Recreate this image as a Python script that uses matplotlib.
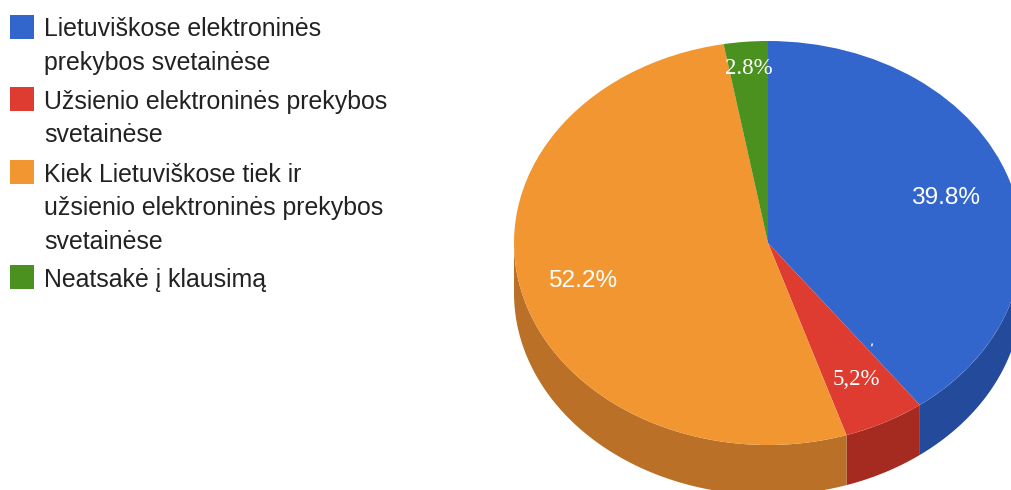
import numpy as np
import matplotlib
matplotlib.use("Agg")
import matplotlib.pyplot as plt
from matplotlib.patches import Rectangle

# Survey shares, percent
categories = [
    "Lietuviškose elektroninės\nprekybos svetainėse",
    "Užsienio elektroninės prekybos\nsvetainėse",
    "Kiek Lietuviškose tiek ir\nužsienio elektroninės prekybos\nsvetainėse",
    "Neatsakė į klausimą",
]
values = [39.8, 5.2, 52.2, 2.8]
value_labels = ["39.8%", "5,2%", "52.2%", "2.8%"]

top_colors = ["#3366CC", "#DE3C30", "#F29632", "#4B9120"]
side_colors = ["#244B9B", "#A52A20", "#BA7026", "#35661A"]

W, H = 1011, 490
fig = plt.figure(figsize=(W / 100, H / 100), dpi=100, facecolor="white")

# Pie geometry in pixels: centre, radii and wall height of the tilted disc
cx, cy, rx, ry, depth = 768, 243, 254, 202, 50

ax = fig.add_axes([(cx - rx) / W, 1 - (cy + ry) / H, 2 * rx / W, 2 * ry / H])
ax.pie(values, colors=top_colors, startangle=90, counterclock=False, radius=1,
       wedgeprops={"linewidth": 0, "zorder": 3})
ax.set_aspect("auto")
ax.set_xlim(-1, 1)
ax.set_ylim(-1, 1)
ax.axis("off")

# Front wall of the disc: only the part of each slice that faces the viewer
wall = depth / ry
edges = np.cumsum([0] + values) / sum(values) * 360
for start, end, color in zip(edges[:-1], edges[1:], side_colors):
    lo, hi = max(start, 90), min(end, 270)
    if hi <= lo:
        continue
    t = np.radians(np.linspace(lo, hi, 120))
    x, y = np.sin(t), np.cos(t)
    ax.fill(np.r_[x, x[::-1]], np.r_[y, y[::-1] - wall], color=color, lw=0,
            zorder=2, clip_on=False)

# Overlay in pixel coordinates for the legend and the value labels
ov = fig.add_axes([0, 0, 1, 1], facecolor="none")
ov.set_xlim(0, W)
ov.set_ylim(H, 0)
ov.axis("off")

sans = "Liberation Sans"
serif = "Liberation Serif"
line_px = 33.6
swatch_y = [27, 99, 172, 277]
for label, color, y in zip(categories, top_colors, swatch_y):
    ov.add_patch(Rectangle((10, y - 12), 24, 24, facecolor=color, edgecolor="none"))
    for i, line in enumerate(label.split("\n")):
        ov.text(44.5, y + i * line_px, line, family=sans, fontsize=17.95,
                color="#222222", va="center_baseline", ha="left")

label_pos = [(946, 198), (856, 379), (583, 281), (749, 69)]
label_font = [(sans, 17.6), (serif, 16.5), (sans, 17.6), (serif, 16.5)]
for text, (x, y), (family, size) in zip(value_labels, label_pos, label_font):
    ov.text(x, y, text, family=family, fontsize=size, color="white",
            ha="center", va="center")

# Small white stroke sitting on the blue slice
ov.text(870, 349, "'", family=sans, fontsize=11, color="white", ha="center", va="center",
        rotation=-12)

fig.savefig("out.png", dpi=100, facecolor="white")
